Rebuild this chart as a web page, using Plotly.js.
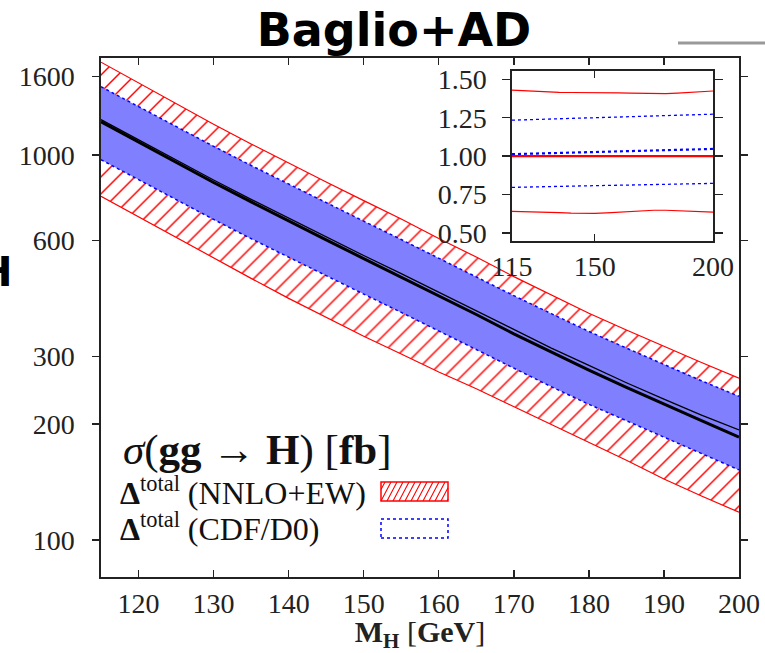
<!DOCTYPE html>
<html>
<head>
<meta charset="utf-8">
<script src="https://cdn.plot.ly/plotly-3.0.1.min.js"></script>
<style>html,body{margin:0;padding:0;background:#fff;}</style>
</head>
<body>
<div id="chart" style="width:765px;height:653px;"></div>
<script>
// ---- data ----
const massGeV = [115,120,125,130,135,140,145,150,155,160,165,170,175,180,185,190,195,200];
// sigma(gg->H) in fb
const sigmaCentral = [1219,1080,955,848,755,673,602,538,482,430,385,343,307,276,249,225,204,185];
const sigmaCdfD0   = [1235,1095,969,861,767,685,613,548,492,440,394,352,315,284,256,232,211,193];
const nnloEwUpper  = [1742,1539,1356,1202,1068,952,851,761,682,607,543,483,432,388,351,318,289,263];
const nnloEwLower  = [781,691,609,539,478,424,378,338,304,273,247,222,199,179,161,144,130,118];
const cdfD0Upper   = [1504,1336,1183,1053,939,839,751,673,603,539,484,431,387,348,315,285,259,236];
const cdfD0Lower   = [972,863,764,680,606,542,485,435,390,349,313,279,250,225,204,185,167,152];
// inset: ratios to the central NNLO+EW prediction
const ratioNnloUpper = [1.429,1.425,1.420,1.417,1.415,1.414,1.414,1.415,1.414,1.412,1.410,1.408,1.407,1.407,1.410,1.414,1.418,1.424];
const ratioNnloLower = [0.641,0.640,0.638,0.636,0.633,0.630,0.628,0.628,0.631,0.636,0.642,0.646,0.648,0.648,0.646,0.642,0.638,0.636];
const ratioCentral   = [1,1,1,1,1,1,1,1,1,1,1,1,1,1,1,1,1,1];
const ratioCdfCentral= [1.013,1.015,1.017,1.019,1.021,1.023,1.025,1.027,1.029,1.031,1.033,1.035,1.037,1.039,1.041,1.043,1.045,1.047];
const ratioCdfUpper  = [1.234,1.237,1.239,1.242,1.244,1.246,1.248,1.250,1.252,1.254,1.256,1.258,1.260,1.262,1.265,1.267,1.270,1.273];
const ratioCdfLower  = [0.797,0.799,0.800,0.802,0.803,0.805,0.806,0.808,0.809,0.811,0.812,0.814,0.815,0.817,0.818,0.820,0.821,0.823];
const yTickVals = [100,200,300,600,1000,1600];
const insetYTicks = [0.5,0.75,1.0,1.25,1.5];
const insetXTicks = [115,150,200];

// ---- layout helpers (pixel -> paper) ----
const L=101, R=739, T=58, B=577;
const PX = x => (x-L)/(R-L);
const PY = y => (B-y)/(B-T);
const serif = 'Liberation Serif';
const RED='#ff0000', BLUE='#0000ff', FILLBLUE='#8080ff';

const traces = [
  {x:massGeV, y:nnloEwLower, xaxis:'x', yaxis:'y', mode:'lines', line:{color:RED,width:1.2}, showlegend:false, hoverinfo:'skip'},
  {x:massGeV, y:nnloEwUpper, xaxis:'x', yaxis:'y', mode:'lines', line:{color:RED,width:1.2}, fill:'tonexty',
   fillcolor:'rgba(255,255,255,0)', fillpattern:{shape:'/', fgcolor:RED, bgcolor:'#ffffff', size:12, solidity:0.12}, showlegend:false, hoverinfo:'skip'},
  {x:massGeV, y:cdfD0Lower, xaxis:'x', yaxis:'y', mode:'lines', line:{color:BLUE,width:1.5,dash:'dot'}, showlegend:false, hoverinfo:'skip'},
  {x:massGeV, y:cdfD0Upper, xaxis:'x', yaxis:'y', mode:'lines', line:{color:BLUE,width:1.5,dash:'dot'}, fill:'tonexty', fillcolor:FILLBLUE, showlegend:false, hoverinfo:'skip'},
  {x:massGeV, y:sigmaCdfD0, xaxis:'x', yaxis:'y', mode:'lines', line:{color:'#000',width:1.3}, showlegend:false},
  {x:massGeV, y:sigmaCentral, xaxis:'x', yaxis:'y', mode:'lines', line:{color:'#000',width:3}, showlegend:false},
  // inset
  {x:massGeV, y:ratioNnloUpper, xaxis:'x2', yaxis:'y2', mode:'lines', line:{color:RED,width:1.2}, showlegend:false},
  {x:massGeV, y:ratioNnloLower, xaxis:'x2', yaxis:'y2', mode:'lines', line:{color:RED,width:1.2}, showlegend:false},
  {x:massGeV, y:ratioCdfUpper, xaxis:'x2', yaxis:'y2', mode:'lines', line:{color:BLUE,width:1.3,dash:'dot'}, showlegend:false},
  {x:massGeV, y:ratioCdfLower, xaxis:'x2', yaxis:'y2', mode:'lines', line:{color:BLUE,width:1.3,dash:'dot'}, showlegend:false},
  {x:massGeV, y:ratioCentral, xaxis:'x2', yaxis:'y2', mode:'lines', line:{color:RED,width:2.2}, showlegend:false},
  {x:massGeV, y:ratioCdfCentral, xaxis:'x2', yaxis:'y2', mode:'lines', line:{color:BLUE,width:2.2,dash:'dot'}, showlegend:false}
];

// legend swatch hatch
let hatch = '';
for (let x0 = 375; x0 <= 448; x0 += 6) {
  let xa = x0, ya = 501, xb = x0 + 10, yb = 482;
  if (xa < 381) { ya = 501 - (381 - xa) * 1.9; xa = 381; }
  if (xb > 448) { yb = 482 + (xb - 448) * 1.9; xb = 448; }
  if (xa >= xb) continue;
  hatch += `M${PX(xa)},${PY(ya)} L${PX(xb)},${PY(yb)} `;
}

const axisCommon = {showgrid:false, zeroline:false, showline:true, linecolor:'#222', linewidth:1.6, mirror:'ticks',
  tickcolor:'#222', tickwidth:1.4, tickfont:{family:serif, size:28, color:'#222'}};

const layout = {
  width:765, height:653, autosize:false,
  margin:{l:L, r:765-R, t:T, b:653-B, pad:0},
  paper_bgcolor:'#fff', plot_bgcolor:'#fff',
  title:{text:'Baglio+AD', x:394/765, xref:'container', xanchor:'center', y:1-30/653, yref:'container', yanchor:'middle',
         font:{family:'DejaVu Sans', size:46, weight:700, color:'#000'}},
  xaxis:Object.assign({}, axisCommon, {domain:[0,1], range:[115,200], dtick:10, tick0:120, ticks:'inside', ticklen:7,
     ticklabelstandoff:1,
     title:{text:'<b>M<sub>H</sub></b> [<b>GeV</b>]', font:{family:serif, size:30, color:'#222'}, standoff:7}}),
  yaxis:Object.assign({}, axisCommon, {domain:[0,1], type:'log', range:[Math.log10(80.1), Math.log10(1786)],
     tickvals:yTickVals, ticktext:yTickVals.map(String), ticks:'outside', ticklen:7, ticklabelstandoff:12}),
  xaxis2:Object.assign({}, axisCommon, {anchor:'y2', domain:[PX(512), PX(713)], range:[115,200], tickvals:insetXTicks,
     ticks:'inside', ticklen:7, ticklabelstandoff:0}),
  yaxis2:Object.assign({}, axisCommon, {anchor:'x2', domain:[PY(241), PY(71)], range:[0.448,1.554], tickvals:insetYTicks,
     tickformat:'.2f', ticks:'outside', ticklen:8, ticklabelstandoff:10}),
  shapes:[
    {type:'rect', xref:'paper', yref:'paper', x0:PX(512), x1:PX(713), y0:PY(241), y1:PY(71), fillcolor:'#fff', line:{width:0}, layer:'below'},
    {type:'line', xref:'paper', yref:'paper', x0:PX(678), x1:PX(770), y0:PY(43), y1:PY(43), line:{color:'#999', width:3}},
    {type:'rect', xref:'paper', yref:'paper', x0:PX(381), x1:PX(448), y0:PY(501), y1:PY(482), line:{color:RED, width:1.5}, fillcolor:'#fff'},
    {type:'path', xref:'paper', yref:'paper', path:hatch, line:{color:RED, width:1.1}},
    {type:'rect', xref:'paper', yref:'paper', x0:PX(381), x1:PX(448), y0:PY(538), y1:PY(519), line:{color:BLUE, width:1.5, dash:'dot'}, fillcolor:'rgba(0,0,0,0)'}
  ],
  annotations:[
    {xref:'paper', yref:'paper', x:PX(14), y:PY(272), xanchor:'right', yanchor:'middle', showarrow:false,
     text:'H', font:{family:'DejaVu Sans', size:40, weight:700, color:'#000'}},
    {xref:'paper', yref:'paper', x:PX(121), y:PY(450), xanchor:'left', yanchor:'middle', showarrow:false,
     text:'<i>σ</i>(<b>gg</b>&nbsp;→&nbsp;<b>H</b>) [<b>fb</b>]', font:{family:serif, size:43, color:'#111'}},
    {xref:'paper', yref:'paper', x:PX(118), y:PY(491), xanchor:'left', yanchor:'middle', showarrow:false,
     text:'<b>Δ</b><sup>total</sup> (NNLO+EW)', font:{family:serif, size:32, color:'#111'}},
    {xref:'paper', yref:'paper', x:PX(118), y:PY(527), xanchor:'left', yanchor:'middle', showarrow:false,
     text:'<b>Δ</b><sup>total</sup> (CDF/D0)', font:{family:serif, size:32, color:'#111'}}
  ]
};

Plotly.newPlot('chart', traces, layout, {staticPlot:true, displayModeBar:false});
</script>
</body>
</html>
